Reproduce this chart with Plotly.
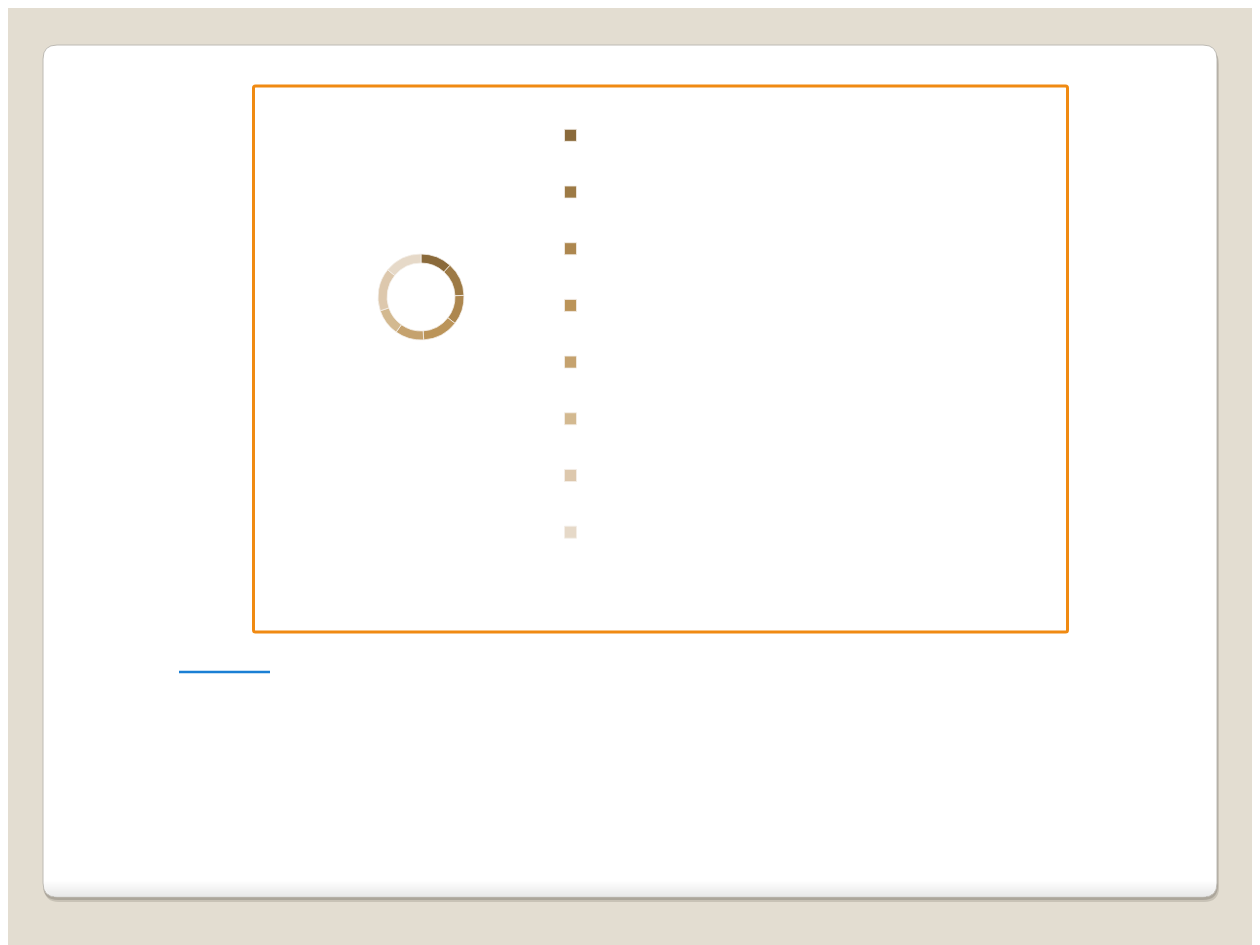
import math
import plotly.graph_objects as go

segments = ["Segment 1", "Segment 2", "Segment 3", "Segment 4",
            "Segment 5", "Segment 6", "Segment 7", "Segment 8"]
shares = [11.8, 12.6, 11.1, 13.5, 10.8, 10.0, 16.1, 14.1]
colors = ["#8a6a3b", "#9d7a45", "#ad874f", "#bb9459",
          "#c5a26e", "#d3b990", "#ddc8ad", "#e6d9c8"]

W, H = 1260, 945
OFF = 8  # the page body margin shifts the figure by this much


def rounded_rect(x0, y0, x1, y1, r):
    return (f"M{x0 + r},{y0} L{x1 - r},{y0} Q{x1},{y0} {x1},{y0 + r} "
            f"L{x1},{y1 - r} Q{x1},{y1} {x1 - r},{y1} "
            f"L{x0 + r},{y1} Q{x0},{y1} {x0},{y1 - r} "
            f"L{x0},{y0 + r} Q{x0},{y0} {x0 + r},{y0} Z")


def px_x(x):
    return (x - OFF) / W


def px_y(y):
    return 1 - (y - OFF) / H


# donut placement in screen pixels
cx, cy, rad = 421, 297, 43

fig = go.Figure()
fig.add_trace(go.Pie(
    labels=segments,
    values=shares,
    hole=0.79,
    sort=False,
    direction="clockwise",
    rotation=0,
    textinfo="none",
    marker=dict(colors=colors, line=dict(color="#f4efe8", width=0.8)),
    domain=dict(x=[px_x(cx - rad), px_x(cx + rad)],
                y=[px_y(cy + rad), px_y(cy - rad)]),
))

# card box in screen pixels
card_l, card_t, card_r, card_b, card_rad = 43, 45, 1217, 897, 14

shapes = []
# card shadow
shapes.append(dict(type="path", path=rounded_rect(card_l + 1, card_t + 4, card_r + 2, card_b + 5, 15),
                   xref="x", yref="y", fillcolor="rgba(120,115,105,0.25)",
                   line=dict(width=0), layer="below"))
shapes.append(dict(type="path", path=rounded_rect(card_l, card_t + 2, card_r + 1, card_b + 3, 15),
                   xref="x", yref="y", fillcolor="rgba(120,115,105,0.35)",
                   line=dict(width=0), layer="below"))
# card
shapes.append(dict(type="path", path=rounded_rect(card_l, card_t, card_r, card_b, card_rad),
                   xref="x", yref="y", fillcolor="#ffffff",
                   line=dict(color="#bdbab4", width=1), layer="below"))
# soft shading at the card bottom, following the rounded corners
for i in range(16):
    y0 = card_b - 16 + i
    dy = max(0, y0 + 0.5 - (card_b - card_rad))
    inset = card_rad - math.sqrt(max(card_rad ** 2 - dy ** 2, 0)) if dy > 0 else 0
    shapes.append(dict(type="rect", x0=card_l + 0.5 + inset, x1=card_r - 0.5 - inset,
                       y0=y0, y1=y0 + 1, xref="x", yref="y",
                       fillcolor=f"rgba(225,225,225,{(i + 1) / 16 * 0.75:.3f})",
                       line=dict(width=0), layer="below"))
# orange frame
shapes.append(dict(type="path", path=rounded_rect(253.5, 86, 1067.5, 632, 2),
                   xref="x", yref="y", fillcolor="rgba(0,0,0,0)",
                   line=dict(color="#f08a12", width=3), layer="below"))
# blue rule
shapes.append(dict(type="line", x0=179, x1=270, y0=672, y1=672,
                   xref="x", yref="y", line=dict(color="#1a7fd4", width=2.5),
                   layer="below"))

fig.update_layout(
    width=W,
    height=H,
    margin=dict(l=0, r=0, t=0, b=0),
    paper_bgcolor="#e3ddd1",
    plot_bgcolor="rgba(0,0,0,0)",
    xaxis=dict(range=[OFF, W + OFF], visible=False, fixedrange=True),
    yaxis=dict(range=[H + OFF, OFF], visible=False, fixedrange=True),
    shapes=shapes,
    showlegend=True,
    legend=dict(
        x=px_x(550.5), y=px_y(102), xanchor="left", yanchor="top",
        font=dict(family="Open Sans", size=41.3, color="#ffffff"),
        bgcolor="rgba(0,0,0,0)",
    ),
)

fig.write_html("out.html")
